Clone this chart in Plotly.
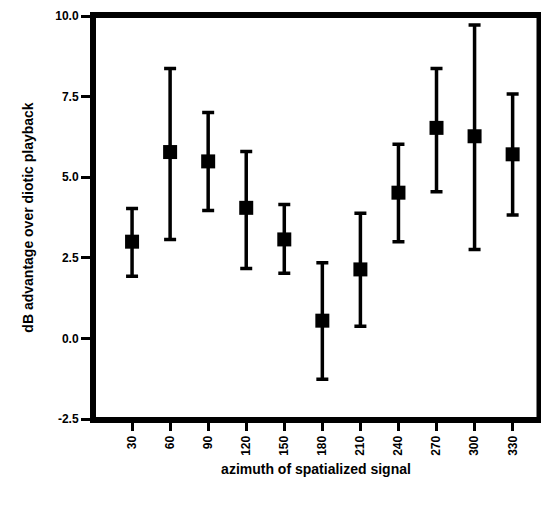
import plotly.graph_objects as go

azimuth = [30, 60, 90, 120, 150, 180, 210, 240, 270, 300, 330]
mean_db = [3.0, 5.78, 5.49, 4.05, 3.07, 0.55, 2.14, 4.52, 6.53, 6.27, 5.71]
upper_db = [4.03, 8.37, 7.01, 5.80, 4.15, 2.35, 3.88, 6.02, 8.37, 9.72, 7.58]
lower_db = [1.93, 3.07, 3.97, 2.17, 2.02, -1.27, 0.38, 3.0, 4.55, 2.76, 3.83]
y_ticks = [-2.5, 0.0, 2.5, 5.0, 7.5, 10.0]

err_plus = [u - m for u, m in zip(upper_db, mean_db)]
err_minus = [m - l for m, l in zip(mean_db, lower_db)]

font_main = "Liberation Sans, Arial, sans-serif"

fig = go.Figure()
fig.add_trace(go.Scatter(
    x=azimuth, y=mean_db, mode="markers",
    marker=dict(symbol="square", size=14, color="black"),
    error_y=dict(type="data", symmetric=False, array=err_plus, arrayminus=err_minus,
                 color="black", thickness=3.5, width=6),
    showlegend=False, cliponaxis=False,
))

# plot frame: four sides, each drawn as a separate line in axis-domain units
sides = [
    (0, 0, 0, 1, 4),
    (0, 1, 1, 1, 4),
    (0, 1, 0, 0, 4),
    (1, 1, 0, 1, 3),
]
for x0, x1, y0, y1, w in sides:
    fig.add_shape(type="line", xref="x domain", yref="y domain",
                  x0=x0, x1=x1, y0=y0, y1=y1,
                  line=dict(color="black", width=w), layer="above")

fig.update_layout(
    width=533, height=490,
    margin=dict(l=86, r=3, t=8, b=79, autoexpand=False),
    plot_bgcolor="white", paper_bgcolor="white",
    font=dict(family=font_main, color="black"),
)
fig.update_xaxes(
    range=[0, 350], tickmode="array", tickvals=azimuth,
    ticktext=[str(a) for a in azimuth], tickangle=-90,
    ticks="outside", ticklen=8, tickwidth=3, tickcolor="black",
    tickfont=dict(size=12, family=font_main, weight="bold"),
    showline=True, linecolor="black", linewidth=4, mirror=True,
    showgrid=False, zeroline=False, automargin=False,
    title=dict(text="<b>azimuth of spatialized signal</b>", font=dict(size=14), standoff=10),
)
fig.update_yaxes(
    range=[-2.5, 10.0], tickmode="array", tickvals=y_ticks,
    ticktext=[f"{v:.1f}" for v in y_ticks],
    ticks="outside", ticklen=9, tickwidth=3, tickcolor="black",
    tickfont=dict(size=12, family=font_main, weight="bold"),
    showline=True, linecolor="black", linewidth=4, mirror=True,
    showgrid=False, zeroline=False, automargin=False,
    title=dict(text="<b>dB advantage over diotic playback</b>", font=dict(size=14), standoff=19),
)

fig.write_html("out.html")
